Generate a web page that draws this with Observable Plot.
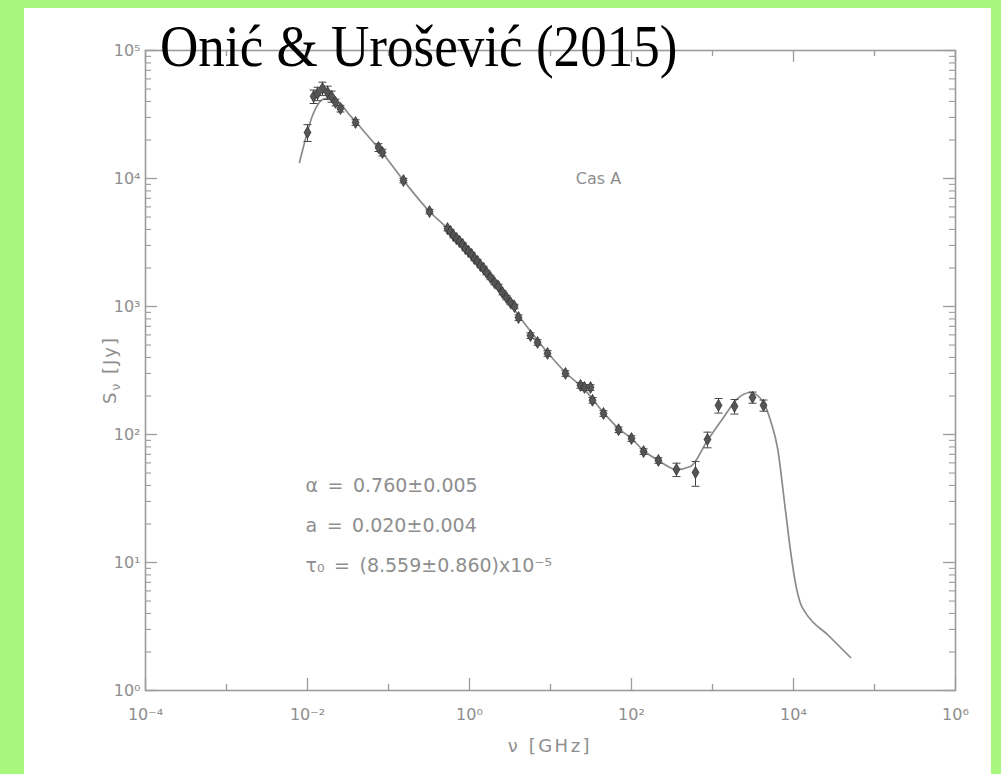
<!DOCTYPE html>
<html>
<head>
<meta charset="utf-8">
<script src="https://cdn.jsdelivr.net/npm/d3@7"></script>
<script src="https://cdn.jsdelivr.net/npm/@observablehq/plot@0.6"></script>
<style>
  html, body { margin: 0; padding: 0; }
  body { width: 1001px; height: 774px; background: #a7f77f; position: relative; overflow: hidden; }
  #panel { position: absolute; left: 24px; top: 8px; width: 967px; height: 766px; background: #ffffff; }
  #chart { position: absolute; left: 0; top: 0; }
</style>
</head>
<body>
<div id="panel"></div>
<div id="chart"></div>
<script>
// Fitted spectral model of Cas A (frequency in GHz, flux density in Jy)
const modelFreq = [0.00796, 0.00893, 0.0100, 0.01153, 0.01368, 0.01668, 0.02037, 0.02553, 0.03118, 0.03918,
  0.0551, 0.0796, 0.1532, 0.3206, 0.535, 1.029, 1.816, 4.027, 9.18, 15.31,
  25.5, 45.1, 69.1, 100, 140.6, 215.4, 359.5, 534.6, 866, 1367,
  2037, 2944, 4266, 5200, 6340, 7960, 9180, 10590, 12190, 14060,
  27040, 50600];
const modelFlux = [13335, 17783, 23300, 31050, 38550, 42170, 42170, 38550, 32810, 27850,
  21660, 16540, 9640, 5521, 4064, 2548, 1687, 851, 437, 305,
  229, 148.5, 111.4, 93.0, 75.0, 62.6, 53.3, 56.2, 89.8, 135.9,
  191.0, 212.9, 177.8, 128.6, 79.1, 25.5, 12.4, 6.86, 4.79, 4.06,
  2.69, 1.81];

// Measured flux densities with relative uncertainties
const obsFreq = [0.0100, 0.0119, 0.0133, 0.0153, 0.0177, 0.0198, 0.0222, 0.0255, 0.0392, 0.0753,
  0.0841, 0.153, 0.321, 0.535, 0.582, 0.634, 0.691, 0.753, 0.820, 0.893,
  0.973, 1.059, 1.153, 1.256, 1.368, 1.490, 1.622, 1.816, 2.035, 2.282,
  2.553, 2.861, 3.206, 3.593, 4.027, 5.66, 6.92, 9.19, 15.3, 23.4,
  26.3, 31.2, 33.0, 45.1, 69.2, 100, 141, 215, 359, 617,
  867, 1186, 1870, 3120, 4266];
const obsFlux = [22900, 43800, 46100, 50500, 47000, 43800, 39300, 35200, 27400, 17470,
  15960, 9640, 5520, 4064, 3855, 3586, 3396, 3220, 3050, 2838,
  2690, 2548, 2371, 2248, 2091, 1982, 1844, 1687, 1540, 1432,
  1285, 1175, 1075, 1000, 820, 593, 524, 430, 300, 242,
  233, 233, 185, 146, 109, 93, 73.6, 62.7, 53.3, 50.5,
  91.5, 169, 166, 195, 169];
const obsErr = [0.15, 0.12, 0.12, 0.12, 0.12, 0.10, 0.06, 0.06, 0.05, 0.07,
  0.06, 0.04, 0.04, 0.04, 0.04, 0.04, 0.04, 0.04, 0.04, 0.04,
  0.04, 0.04, 0.04, 0.04, 0.04, 0.04, 0.04, 0.04, 0.04, 0.04,
  0.04, 0.04, 0.04, 0.04, 0.05, 0.05, 0.05, 0.05, 0.05, 0.05,
  0.05, 0.05, 0.05, 0.05, 0.05, 0.05, 0.05, 0.05, 0.12, 0.22,
  0.14, 0.13, 0.13, 0.10, 0.10];

// Axis ticks and labels
const xMajorTicks = [1e-4, 1e-2, 1, 1e2, 1e4, 1e6];
const xMajorLabels = ["10⁻⁴", "10⁻²", "10⁰", "10²", "10⁴", "10⁶"];
const xMinorTicks = [1e-3, 1e-1, 1e1, 1e3, 1e5];
const yMajorTicks = [1, 1e1, 1e2, 1e3, 1e4, 1e5];
const yMajorLabels = ["10⁰", "10¹", "10²", "10³", "10⁴", "10⁵"];
const yMinorTicks = yMajorTicks.slice(0, -1).flatMap(d => [2, 3, 4, 5, 6, 7, 8, 9].map(k => k * d));

const sourceName = "Cas A";
const fitLines = ["α\u2002=\u20020.760±0.005", "a\u2002=\u20020.020±0.004", "τ₀\u2002=\u2002(8.559±0.860)x10⁻⁵"];
const titleText = "Onić & Urošević (2015)";

// Layout
const W = 1001, H = 774;
const mL = 145, mR = 46, mT = 50, mB = 84;
const innerW = W - mL - mR, innerH = H - mT - mB;
const ink = "#9c9c9c";
const textInk = "#8e8e8e";
const majorLen = 12, minorLen = 6;

const model = modelFreq.map((f, i) => ({f, s: modelFlux[i]}));
const obs = obsFreq.map((f, i) => ({
  f, s: obsFlux[i],
  lo: obsFlux[i] * (1 - obsErr[i]),
  hi: obsFlux[i] * (1 + obsErr[i])
}));

// horizontal cap for the error bars
const capSymbol = {
  draw(context, size) {
    const w = Math.sqrt(size / Math.PI);
    context.moveTo(-w, 0);
    context.lineTo(w, 0);
  }
};

const chart = Plot.plot({
  width: W, height: H,
  marginLeft: mL, marginRight: mR, marginTop: mT, marginBottom: mB,
  x: {type: "log", domain: [1e-4, 1e6], axis: null},
  y: {type: "log", domain: [1, 1e5], axis: null},
  style: {background: "transparent", fontFamily: "DejaVu Sans", color: textInk},
  marks: [
    // inward ticks on all four sides
    Plot.tickX(xMajorTicks, {x: d => d, stroke: ink, strokeWidth: 1.3, insetTop: innerH - majorLen}),
    Plot.tickX(xMajorTicks, {x: d => d, stroke: ink, strokeWidth: 1.3, insetBottom: innerH - majorLen}),
    Plot.tickX(xMinorTicks, {x: d => d, stroke: ink, strokeWidth: 1.3, insetTop: innerH - minorLen}),
    Plot.tickX(xMinorTicks, {x: d => d, stroke: ink, strokeWidth: 1.3, insetBottom: innerH - minorLen}),
    Plot.tickY(yMajorTicks, {y: d => d, stroke: ink, strokeWidth: 1.3, insetRight: innerW - majorLen}),
    Plot.tickY(yMajorTicks, {y: d => d, stroke: ink, strokeWidth: 1.3, insetLeft: innerW - majorLen}),
    Plot.tickY(yMinorTicks, {y: d => d, stroke: ink, strokeWidth: 1.1, insetRight: innerW - minorLen}),
    Plot.tickY(yMinorTicks, {y: d => d, stroke: ink, strokeWidth: 1.1, insetLeft: innerW - minorLen}),
    Plot.frame({stroke: ink, strokeWidth: 1.6}),

    // tick labels
    Plot.text(xMajorTicks, {x: d => d, text: (d, i) => xMajorLabels[i], frameAnchor: "bottom", dy: 29,
      fontSize: 16, fill: textInk}),
    Plot.text(yMajorTicks, {y: d => d, text: (d, i) => yMajorLabels[i], frameAnchor: "left", dx: -5,
      textAnchor: "end", fontSize: 16, fill: textInk}),

    // model curve
    Plot.line(model, {x: "f", y: "s", curve: "monotone-x", stroke: "#8a8a8a", strokeWidth: 1.7}),

    // measurements with error bars
    Plot.ruleX(obs, {x: "f", y1: "lo", y2: "hi", stroke: "#444", strokeWidth: 1}),
    Plot.dot(obs, {x: "f", y: "hi", r: 4, symbol: capSymbol, stroke: "#444", fill: "none", strokeWidth: 1}),
    Plot.dot(obs, {x: "f", y: "lo", r: 4, symbol: capSymbol, stroke: "#444", fill: "none", strokeWidth: 1}),
    Plot.dot(obs, {x: "f", y: "s", r: 3.6, symbol: "diamond", fill: "#555", stroke: "#333", strokeWidth: 0.8}),

    // annotations
    Plot.text([sourceName], {frameAnchor: "top-left", dx: 453, dy: 122, textAnchor: "middle",
      fontSize: 16, fill: textInk, letterSpacing: 0.5}),
    ...fitLines.map((t, i) => Plot.text([t], {frameAnchor: "top-left", dx: 160, dy: 428 + i * 40,
      textAnchor: "start", fontSize: 19, fill: textInk, letterSpacing: 1}))
  ]
});

document.getElementById("chart").appendChild(chart);

// axis titles and figure title
const svg = d3.select(chart);
const xLabel = svg.append("text")
  .attr("x", mL + innerW / 2).attr("y", H - 22)
  .attr("text-anchor", "middle")
  .attr("font-family", "DejaVu Sans").attr("font-size", 18)
  .attr("letter-spacing", 2.5)
  .attr("fill", textInk);
xLabel.append("tspan").text("ν [GHz]");

const yLabel = svg.append("text")
  .attr("transform", `translate(116,${mT + innerH / 2}) rotate(-90)`)
  .attr("text-anchor", "middle")
  .attr("font-family", "DejaVu Sans").attr("font-size", 18)
  .attr("letter-spacing", 2)
  .attr("fill", textInk);
yLabel.append("tspan").text("S");
yLabel.append("tspan").attr("font-size", 12).attr("dy", 4).text("ν");
yLabel.append("tspan").attr("dy", -4).text(" [Jy]");

svg.append("text")
  .attr("transform", "translate(160,66) scale(0.885,1)")
  .attr("text-anchor", "start")
  .attr("font-family", "Liberation Serif, Times New Roman, serif")
  .attr("font-size", 60)
  .attr("fill", "#000")
  .text(titleText);
</script>
</body>
</html>
